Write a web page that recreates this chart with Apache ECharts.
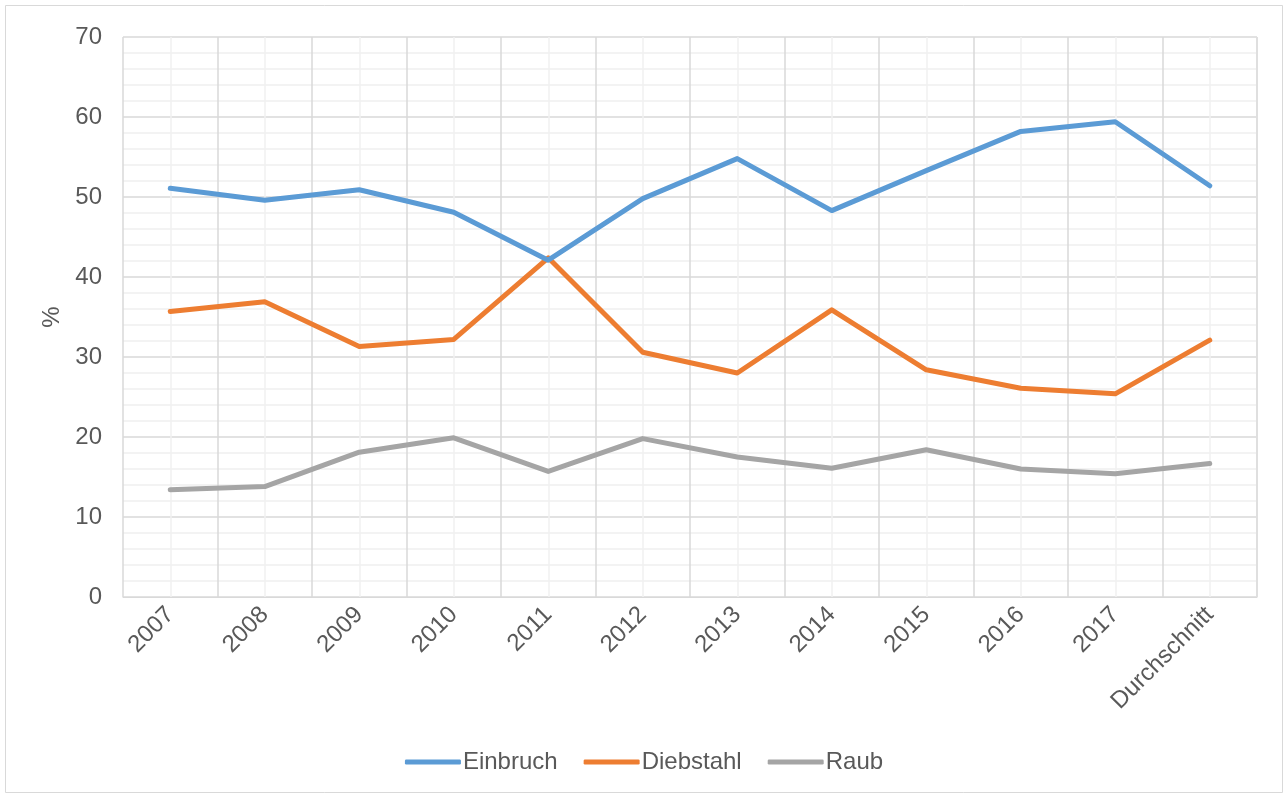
<!DOCTYPE html>
<html><head><meta charset="utf-8">
<script src="https://cdn.jsdelivr.net/npm/echarts@6/dist/echarts.min.js"></script>
<style>html,body{margin:0;padding:0;background:#fff}#c{width:1288px;height:796px}</style>
</head><body><div id="c"></div>
<script>
var categories = ['2007','2008','2009','2010','2011','2012','2013','2014','2015','2016','2017','Durchschnitt'];
var einbruch   = [51.1, 49.6, 50.9, 48.1, 42.1, 49.8, 54.8, 48.3, 53.3, 58.2, 59.4, 51.4];
var diebstahl  = [35.7, 36.9, 31.3, 32.2, 42.4, 30.6, 28.0, 35.9, 28.4, 26.1, 25.4, 32.1];
var raub       = [13.4, 13.8, 18.1, 19.9, 15.7, 19.8, 17.5, 16.1, 18.4, 16.0, 15.4, 16.7];
var yTicks = {min: 0, max: 70, interval: 10};

var halfCats = [];
categories.forEach(function(c){ halfCats.push(c + 'a', c + 'b'); });

var font = 'Liberation Sans, Arial, sans-serif';
var chart = echarts.init(document.getElementById('c'));
chart.setOption({
  animation: false,
  backgroundColor: '#fff',
  graphic: [{type:'rect', shape:{x:5.5,y:5.5,width:1277,height:787}, style:{fill:'none', stroke:'#d9d9d9', lineWidth:1}, silent:true, z:-10}],
  grid: {left: 123, right: 31, top: 37, bottom: 199},
  legend: {
    bottom: 17, left: 'center',
    itemWidth: 56, itemHeight: 5, itemGap: 26, icon: 'roundRect',
    textStyle: {fontFamily: font, fontSize: 24, color: '#595959', padding: [0,0,0,-3]},
    data: ['Einbruch','Diebstahl','Raub']
  },
  xAxis: [{
    type: 'category', data: categories, boundaryGap: true,
    axisLine: {show: true, lineStyle: {color: '#d9d9d9', width: 1}},
    axisTick: {show: false},
    axisLabel: {rotate: 45, fontFamily: font, fontSize: 24, color: '#595959', margin: 14, interval: 0},
    splitLine: {show: true, lineStyle: {color: '#d9d9d9', width: 1.5}},
    z: 2
  },{
    type: 'category', data: halfCats, boundaryGap: true, position: 'bottom',
    axisLine: {show: false}, axisTick: {show: false}, axisLabel: {show: false},
    splitLine: {show: true, interval: function(i){ return i % 2 === 1; }, lineStyle: {color: '#f0f0f0', width: 1.5}},
    z: 1
  }],
  yAxis: {
    type: 'value', min: yTicks.min, max: yTicks.max, interval: yTicks.interval,
    name: '%', nameLocation: 'middle', nameGap: 57, nameRotate: 90,
    nameTextStyle: {fontFamily: font, fontSize: 24, color: '#595959'},
    axisLine: {show: false}, axisTick: {show: false},
    axisLabel: {fontFamily: font, fontSize: 24, color: '#595959', margin: 21},
    splitLine: {show: true, lineStyle: {color: '#d9d9d9', width: 1.5}},
    minorTick: {show: false, splitNumber: 5},
    minorSplitLine: {show: true, lineStyle: {color: '#f0f0f0', width: 1.5}}
  },
  series: [
    {name: 'Einbruch', type: 'line', data: einbruch, showSymbol: false, symbol: 'none', lineStyle: {width: 5, color: '#5b9bd5', cap: 'round', join: 'round'}, itemStyle: {color: '#5b9bd5'}, z: 5},
    {name: 'Diebstahl', type: 'line', data: diebstahl, showSymbol: false, symbol: 'none', lineStyle: {width: 5, color: '#ed7d31', cap: 'round', join: 'round'}, itemStyle: {color: '#ed7d31'}, z: 4},
    {name: 'Raub', type: 'line', data: raub, showSymbol: false, symbol: 'none', lineStyle: {width: 5, color: '#a5a5a5', cap: 'round', join: 'round'}, itemStyle: {color: '#a5a5a5'}, z: 3}
  ]
});
</script></body></html>
